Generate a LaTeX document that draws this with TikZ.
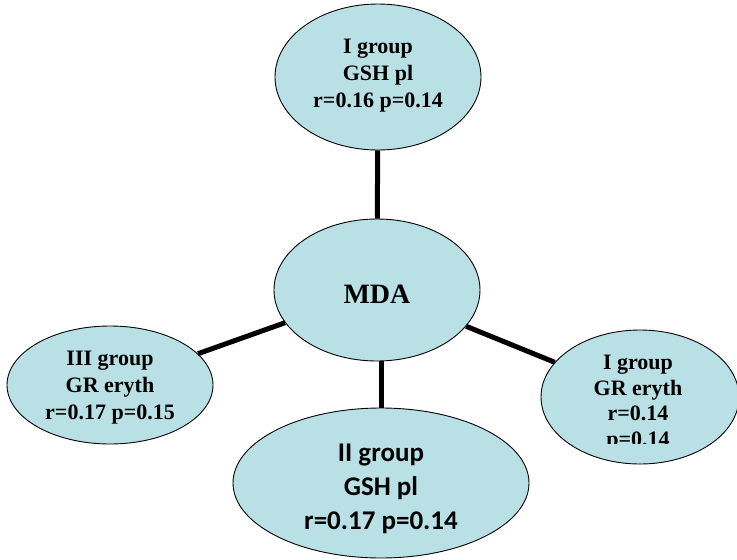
\documentclass[tikz,border=0pt]{standalone}
\usepackage{fontspec}
\setmainfont{Liberation Serif}
\newfontfamily\carlito{Carlito}
\usetikzlibrary{shapes.geometric}
\definecolor{bubble}{RGB}{185,224,228}
\tikzset{
  bub/.style={ellipse, draw=black, line width=0.9pt, fill=bubble, inner sep=0pt},
  txt/.style={align=center, font=\fontsize{22}{27}\selectfont\bfseries, inner sep=0pt},
  conn/.style={line width=5pt}
}
\begin{document}
\begin{tikzpicture}[x=1pt,y=-1pt]
\useasboundingbox (0,0) rectangle (737,560);
\node[bub, minimum width=206, minimum height=146] (top) at (378,77) {};
\node[bub, minimum width=206, minimum height=142] (mda) at (377,290) {};
\node[bub, minimum width=206, minimum height=118] (left) at (110,385) {};
\node[bub, minimum width=198, minimum height=134] (right) at (640,397) {};
\node[bub, minimum width=296, minimum height=150] (bottom) at (381,483) {};
\draw[conn] (top) -- (mda);
\draw[conn] (mda) -- (left);
\draw[conn] (mda) -- (right);
\draw[conn] (mda.south -| bottom.north) -- (bottom.north);
\node[txt] (toptxt) at (378,76) {I group\\GSH pl\\r=0.16 p=0.14};
\node[font=\fontsize{28}{32}\selectfont\bfseries, inner sep=0pt] (mdatxt) at (377,294) {MDA};
\node[txt] (lefttxt) at (110,388) {III group\\GR eryth\\r=0.17 p=0.15};
\begin{scope}
\clip (540,330) rectangle (737,443);
\node[txt, font=\fontsize{22}{25.5}\selectfont\bfseries] (righttxt) at (638,403) {I group\\GR eryth\\r=0.14\\p=0.14};
\end{scope}
\node[txt, font=\fontsize{27}{34}\selectfont\carlito\bfseries] (bottomtxt) at (381,489) {II group\\GSH pl\\r=0.17 p=0.14};
\end{tikzpicture}
\end{document}
